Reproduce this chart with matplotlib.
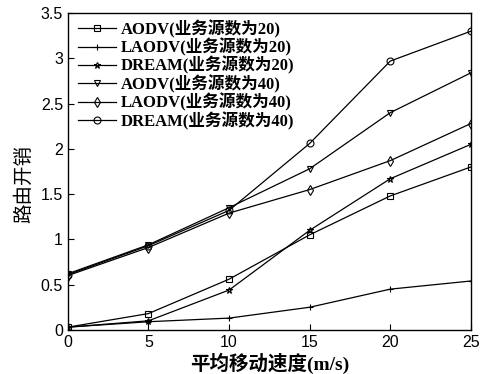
import matplotlib
matplotlib.use('Agg')
import matplotlib.pyplot as plt

# 数据 (平均移动速度 -> 路由开销)
speed = [0, 5, 10, 15, 20, 25]
aodv_20 = [0.03, 0.18, 0.56, 1.05, 1.48, 1.80]
laodv_20 = [0.03, 0.09, 0.13, 0.25, 0.45, 0.54]
dream_20 = [0.03, 0.10, 0.44, 1.10, 1.67, 2.05]
aodv_40 = [0.62, 0.94, 1.35, 1.78, 2.40, 2.84]
laodv_40 = [0.60, 0.91, 1.29, 1.55, 1.87, 2.28]
dream_40 = [0.61, 0.93, 1.32, 2.06, 2.97, 3.30]

labels = ['AODV(业务源数为20)', 'LAODV(业务源数为20)', 'DREAM(业务源数为20)',
          'AODV(业务源数为40)', 'LAODV(业务源数为40)', 'DREAM(业务源数为40)']
series = [aodv_20, laodv_20, dream_20, aodv_40, laodv_40, dream_40]
markers = ['s', '+', '*', 'v', 'd', 'o']

serif_cjk = ['Liberation Serif', 'Noto Sans CJK SC']
sans = ['Liberation Sans', 'DejaVu Sans']

fig = plt.figure(figsize=(4.88, 3.74), dpi=100)
ax = fig.add_axes([0.139, 0.118, 0.826, 0.847])

for y, lab, m in zip(series, labels, markers):
    ax.plot(speed, y, color='black', linewidth=0.9, marker=m, markersize=5,
            markerfacecolor='none', markeredgecolor='black', markeredgewidth=0.8,
            label=lab)

ax.set_xlim(0, 25)
ax.set_ylim(0, 3.5)
ax.set_xticks([0, 5, 10, 15, 20, 25])
ax.set_yticks([0, 0.5, 1, 1.5, 2, 2.5, 3, 3.5])
ax.set_yticklabels(['0', '0.5', '1', '1.5', '2', '2.5', '3', '3.5'])
ax.tick_params(direction='in', length=4, labelsize=11.5, width=0.8)
for t in ax.get_xticklabels() + ax.get_yticklabels():
    t.set_family(sans)
for s in ax.spines.values():
    s.set_linewidth(1.0)

ax.set_xlabel('平均移动速度(m/s)', family=serif_cjk, fontsize=14, fontweight='bold', labelpad=2)
ax.set_ylabel('路由开销', family=serif_cjk, fontsize=14)
ax.yaxis.set_label_coords(-0.087, 0.46)

leg = ax.legend(loc='upper left', frameon=False, handlelength=2.3, handletextpad=0.3,
                labelspacing=0.0, borderaxespad=0.2, borderpad=0.2,
                bbox_to_anchor=(0.008, 1.0),
                prop={'family': serif_cjk, 'size': 12, 'weight': 'bold'})

fig.savefig('out.png', dpi=100)
